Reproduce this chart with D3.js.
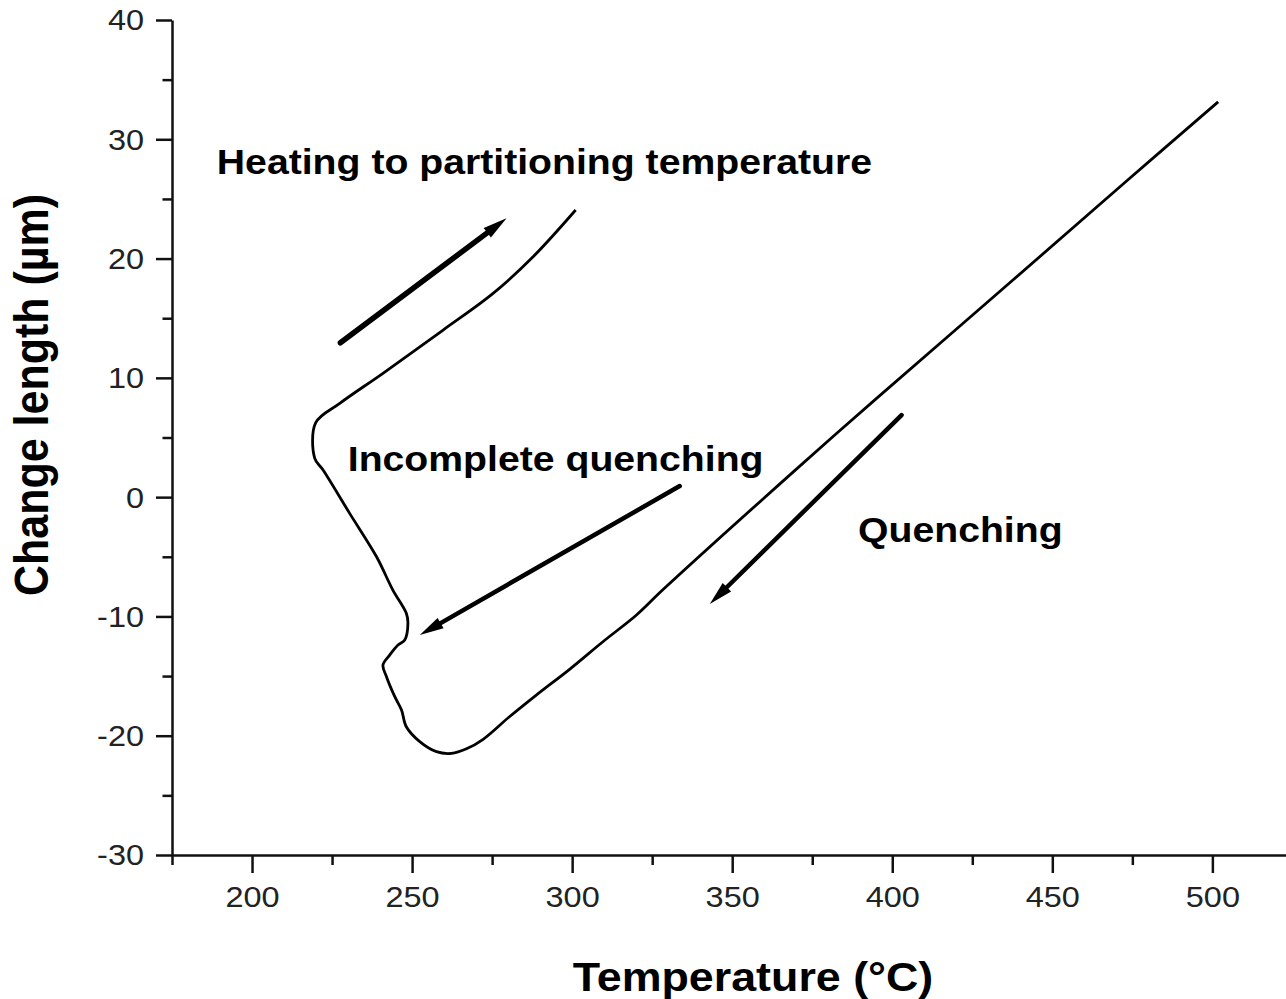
<!DOCTYPE html>
<html>
<head>
<meta charset="utf-8">
<script src="https://cdn.jsdelivr.net/npm/d3@7"></script>
<style>
  html, body { margin: 0; padding: 0; background: #fff; }
  svg { display: block; }
</style>
</head>
<body>
<svg id="chart" width="1286" height="999"></svg>
<script>
// ---- Data ----
const temperature = [501.8, 473.2, 437.7, 395.1, 369.0, 328.4, 320.1, 309.7, 299.3, 288.8,
  280.5, 272.2, 267.0, 262.3, 257.6, 252.4, 248.2, 246.7, 244.6, 242.0,
  240.9, 243.0, 245.6, 247.7, 248.7, 248.2, 244.0, 238.9, 230.5, 222.2,
  219.6, 219.9, 227.4, 240.9, 259.7, 275.3, 287.8, 301.1];
const changeLength = [33.14, 26.50, 18.20, 8.28, 2.10, -7.75, -9.88, -12.10, -14.41, -16.59,
  -18.39, -20.30, -21.10, -21.48, -21.34, -20.50, -19.25, -17.85, -16.73, -15.05,
  -14.07, -13.24, -12.40, -11.98, -10.58, -9.74, -7.79, -5.00, -1.36, 2.27,
  3.25, 6.24, 7.86, 10.38, 14.01, 17.08, 20.15, 24.07];

const xTicksMajor = [200, 250, 300, 350, 400, 450, 500];
const xTicksMinor = [175, 225, 275, 325, 375, 425, 475];
const yTicksMajor = [-30, -20, -10, 0, 10, 20, 30, 40];
const yTicksMinor = [-25, -15, -5, 5, 15, 25, 35];

const annotationTexts = ["Heating to partitioning temperature", "Incomplete quenching", "Quenching"];
const annotationX = [189.0, 229.9, 389.3];
const annotationY = [27.1, 2.2, -3.75];

// arrows: start and tip
const arrowFromX = [227.6, 333.6, 402.9];
const arrowFromY = [12.94, 0.93, 6.88];
const arrowToX = [279.5, 252.4, 343.0];
const arrowToY = [23.37, -11.56, -8.96];

const xTitle = "Temperature (°C)";
const yTitle = "Change length (µm)";

// ---- Scales ----
const svg = d3.select("#chart");
const x = d3.scaleLinear().domain([175, 523.0]).range([172, 1286]);
const y = d3.scaleLinear().domain([-30, 40]).range([855, 20]);

const FONT = "'Liberation Sans', Arial, Helvetica, sans-serif";
const SX = 1.12; // horizontal stretch of the reference image
const fmt = d => String(d);

// ---- Axes ----
const gx = svg.append("g").attr("transform", `translate(0,${y(-30)})`);
gx.call(d3.axisBottom(x).tickValues(xTicksMajor).tickSize(18).tickSizeOuter(0).tickPadding(0).tickFormat(fmt));
const gxMinor = svg.append("g").attr("transform", `translate(0,${y(-30)})`);
gxMinor.call(d3.axisBottom(x).tickValues(xTicksMinor).tickSize(10).tickSizeOuter(0).tickFormat(""));
gxMinor.select(".domain").remove();

const gy = svg.append("g").attr("transform", `translate(${x(175)},0)`);
gy.call(d3.axisLeft(y).tickValues(yTicksMajor).tickSize(16).tickSizeOuter(0).tickPadding(0).tickFormat(fmt));
const gyMinor = svg.append("g").attr("transform", `translate(${x(175)},0)`);
gyMinor.call(d3.axisLeft(y).tickValues(yTicksMinor).tickSize(9.5).tickSizeOuter(0).tickFormat(""));
gyMinor.select(".domain").remove();

svg.selectAll(".domain").attr("stroke", "#111").attr("stroke-width", 2.5);
svg.selectAll(".tick line").attr("stroke", "#111").attr("stroke-width", 2.5);

gx.selectAll(".tick text")
  .attr("font-family", FONT).attr("font-size", 29).attr("fill", "#222")
  .attr("y", 0).attr("dy", 0)
  .attr("transform", `translate(0,52) scale(${SX},1)`);
gy.selectAll(".tick text")
  .attr("font-family", FONT).attr("font-size", 29).attr("fill", "#222")
  .attr("x", 0).attr("dy", "0.34em")
  .attr("transform", `translate(-28,0) scale(${SX},1)`);

// ---- Axis titles ----
svg.append("text")
  .attr("transform", `translate(${(x(175) + 1286) / 2 + 24},991) scale(${SX},1)`)
  .attr("text-anchor", "middle")
  .attr("font-family", FONT).attr("font-weight", "bold").attr("font-size", 40)
  .attr("fill", "#000")
  .text(xTitle);

svg.append("text")
  .attr("transform", `translate(48,395) rotate(-90) scale(1,${SX})`)
  .attr("text-anchor", "middle")
  .attr("font-family", FONT).attr("font-weight", "bold").attr("font-size", 43)
  .attr("fill", "#000")
  .text(yTitle);

// ---- Curve ----
const pts = temperature.map((t, i) => [t, changeLength[i]]);
const line = d3.line().x(d => x(d[0])).y(d => y(d[1])).curve(d3.curveCatmullRom.alpha(0.5));
svg.append("path")
  .attr("d", line(pts))
  .attr("fill", "none")
  .attr("stroke", "#000")
  .attr("stroke-width", 2.8)
  .attr("stroke-linejoin", "round");

// ---- Arrows ----
const arrowWidths = [5.5, 4.5, 4.5];
arrowFromX.forEach((fx, i) => {
  const x1 = x(fx), y1 = y(arrowFromY[i]), x2 = x(arrowToX[i]), y2 = y(arrowToY[i]);
  const dx = x2 - x1, dy = y2 - y1, len = Math.hypot(dx, dy);
  const ux = dx / len, uy = dy / len, nx = -uy, ny = ux;
  const headLen = 24, headHalf = 6;
  const bx = x2 - ux * headLen, by = y2 - uy * headLen;
  svg.append("line")
    .attr("x1", x1).attr("y1", y1).attr("x2", bx + ux * 4).attr("y2", by + uy * 4)
    .attr("stroke", "#000").attr("stroke-width", arrowWidths[i]).attr("stroke-linecap", "round");
  svg.append("path")
    .attr("d", `M${x2},${y2}L${bx + nx * headHalf},${by + ny * headHalf}L${bx - nx * headHalf},${by - ny * headHalf}Z`)
    .attr("fill", "#000");
});

// ---- Annotations ----
annotationTexts.forEach((txt, i) => {
  svg.append("text")
    .attr("transform", `translate(${x(annotationX[i])},${y(annotationY[i])}) scale(${SX},1)`)
    .attr("font-family", FONT).attr("font-weight", "bold").attr("font-size", 35)
    .attr("fill", "#000")
    .text(txt);
});
</script>
</body>
</html>
